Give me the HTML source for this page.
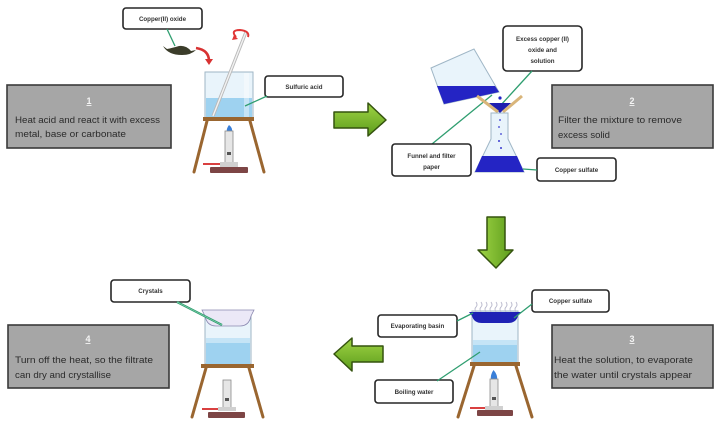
<!DOCTYPE html>
<html><head><meta charset="utf-8"><style>
html,body{margin:0;padding:0;background:#fff;}
svg{display:block;}
text{font-family:"Liberation Sans",sans-serif;}
.lb{fill:#fff;stroke:#262626;stroke-width:1.6;}
.lt{font-size:6.2px;font-weight:bold;fill:#333;text-anchor:middle;}
.sb{fill:#a6a6a6;stroke:#3a3a3a;stroke-width:1.6;}
.st{font-size:9px;fill:#2b2b2b;}
.sn{font-size:9px;font-weight:bold;fill:#f4f4f4;text-anchor:middle;text-decoration:underline;}
.ld{stroke:#2f9e70;stroke-width:1.3;fill:none;}
.glass{fill:#e9f4fb;stroke:#9fb6c6;stroke-width:1;}
.liq{fill:#9ed2f0;}
.wood{stroke:#9a6630;stroke-width:3;stroke-linecap:round;}
.tube{fill:#e6e6e6;stroke:#8a8a8a;stroke-width:0.8;}
.base{fill:#7d4545;}
.hose{stroke:#d94040;stroke-width:2;}
.arrow{fill:url(#gg);stroke:#35530f;stroke-width:1.5;stroke-linejoin:round;}
</style></head><body>
<svg width="720" height="425" viewBox="0 0 720 425" xmlns="http://www.w3.org/2000/svg">
<defs>
<linearGradient id="gg" x1="0" y1="0" x2="0" y2="1">
<stop offset="0" stop-color="#9fd444"/><stop offset="1" stop-color="#5c9c1c"/>
</linearGradient>
<linearGradient id="ggv" x1="0" y1="0" x2="1" y2="0">
<stop offset="0" stop-color="#9fd444"/><stop offset="1" stop-color="#5c9c1c"/>
</linearGradient>
</defs>

<!-- ===== STEP 1 ===== -->
<rect class="sb" x="7" y="85" width="164" height="63"/>
<text class="sn" x="89" y="104">1</text>
<text class="st" x="15" y="123" textLength="145" lengthAdjust="spacingAndGlyphs">Heat acid and react it with excess</text>
<text class="st" x="15" y="137" textLength="111" lengthAdjust="spacingAndGlyphs">metal, base or carbonate</text>

<!-- label copper(II) oxide -->
<rect class="lb" x="123" y="8" width="79" height="21" rx="3"/>
<text class="lt" x="162.5" y="21">Copper(II) oxide</text>
<line class="ld" x1="167" y1="29" x2="175" y2="46"/>
<!-- spatula -->
<path d="M163,46 Q168,55 182,55 Q191,55 196,50 L191,51 Q186,45 179,46 Q172,48 167,49 Z" fill="#3b3d2a"/>
<!-- red curved arrow -->
<path d="M196,48 Q209,50 209,61" stroke="#d83232" stroke-width="2.6" fill="none"/>
<path d="M205,59 L213,59 L209,65 Z" fill="#d83232"/>

<!-- beaker -->
<rect class="glass" x="205" y="72" width="48" height="46"/>
<rect class="liq" x="206" y="98" width="46" height="20"/>
<rect x="244" y="73" width="5" height="44" fill="#fff" opacity="0.4"/>
<!-- rod -->
<line x1="213" y1="116" x2="246" y2="32" stroke="#b9b9b9" stroke-width="3.2"/>
<line x1="213" y1="116" x2="246" y2="32" stroke="#f2f2f2" stroke-width="1.4"/>
<!-- swirl -->
<path d="M236,37 Q230,30 240,30 Q250,31 248,37" stroke="#e03535" stroke-width="2" fill="none"/>
<path d="M234,35 L238,39 L232,40 Z" fill="#e03535"/>
<!-- sulfuric acid label -->
<rect class="lb" x="265" y="76" width="78" height="21" rx="3"/>
<text class="lt" x="304" y="89">Sulfuric acid</text>
<line class="ld" x1="267" y1="96" x2="245" y2="106"/>
<!-- tripod -->
<line class="wood" x1="207" y1="121" x2="194" y2="172"/>
<line class="wood" x1="250" y1="121" x2="264" y2="172"/>
<rect x="203" y="117" width="51" height="4" fill="#9a6630"/>
<!-- burner -->
<path d="M229,125 Q226,129 227,132 L232,132 Q233,128 229,125 Z" fill="#3a7fd8"/>
<rect class="tube" x="225" y="131" width="8" height="32"/>
<rect x="227" y="152" width="4" height="3" fill="#555"/>
<line class="hose" x1="203" y1="164" x2="225" y2="164"/>
<rect x="220" y="162" width="18" height="5" fill="#d0d0d0"/>
<rect class="base" x="210" y="167" width="38" height="6" rx="1"/>

<!-- arrow right -->
<path class="arrow" d="M334,112 L368,112 L368,103 L386,120 L368,136 L368,128 L334,128 Z"/>

<!-- ===== STEP 2 ===== -->
<rect class="sb" x="552" y="85" width="161" height="63"/>
<text class="sn" x="632" y="104">2</text>
<text class="st" x="558" y="123" textLength="124" lengthAdjust="spacingAndGlyphs">Filter the mixture to remove</text>
<text class="st" x="558" y="138" textLength="52" lengthAdjust="spacingAndGlyphs">excess solid</text>

<rect class="lb" x="503" y="26" width="79" height="45" rx="4"/>
<text class="lt" x="542.5" y="41">Excess copper (II)</text>
<text class="lt" x="542.5" y="52">oxide and</text>
<text class="lt" x="542.5" y="63">solution</text>

<!-- leaders -->
<line class="ld" x1="432" y1="144" x2="492" y2="95"/>
<line class="ld" x1="532" y1="71" x2="500" y2="106"/>

<!-- tilted beaker -->
<polygon class="glass" points="431,68 474,49 499,92 444,104"/>
<polygon points="437,86 495,86 499,92 444,104" fill="#2424c4"/>
<circle cx="500" cy="98" r="1.6" fill="#2424c4"/>
<!-- funnel -->
<polygon points="489,103 511,103 500,113" fill="#1e1eb0"/>
<line x1="477" y1="96" x2="498" y2="112" stroke="#d9b57a" stroke-width="3"/>
<line x1="522" y1="96" x2="503" y2="112" stroke="#d9b57a" stroke-width="3"/>
<!-- flask -->
<path class="glass" d="M491,113 L508,113 L508,139 L524,172 L475,172 L491,139 Z"/>
<path d="M482,156 L517,156 L524,172 L475,172 Z" fill="#2424c4"/>
<g fill="#3a3ad0">
<circle cx="500" cy="120" r="0.9"/><circle cx="499" cy="127" r="0.9"/><circle cx="501" cy="134" r="0.9"/>
<circle cx="499" cy="141" r="1"/><circle cx="501" cy="148" r="1"/>
</g>

<rect class="lb" x="392" y="144" width="79" height="32" rx="3"/>
<text class="lt" x="431.5" y="158">Funnel and filter</text>
<text class="lt" x="431.5" y="169">paper</text>

<rect class="lb" x="537" y="158" width="79" height="23" rx="3"/>
<text class="lt" x="576.5" y="172">Copper sulfate</text>
<line class="ld" x1="523" y1="169" x2="537" y2="170"/>

<!-- arrow down -->
<path d="M487,217 L505,217 L505,250 L513,250 L496,268 L478,250 L487,250 Z" fill="url(#ggv)" stroke="#35530f" stroke-width="1.5" stroke-linejoin="round"/>

<!-- ===== STEP 3 ===== -->
<rect class="sb" x="552" y="325" width="161" height="63"/>
<text class="sn" x="632" y="342">3</text>
<text class="st" x="554" y="363" textLength="139" lengthAdjust="spacingAndGlyphs">Heat the solution, to evaporate</text>
<text class="st" x="554" y="378" textLength="138" lengthAdjust="spacingAndGlyphs">the water until crystals appear</text>

<rect class="lb" x="532" y="290" width="77" height="22" rx="3"/>
<text class="lt" x="570.5" y="303">Copper sulfate</text>
<rect class="lb" x="378" y="315" width="79" height="22" rx="3"/>
<text class="lt" x="417.5" y="328">Evaporating basin</text>
<rect class="lb" x="375" y="380" width="78" height="23" rx="3"/>
<text class="lt" x="414" y="394">Boiling water</text>

<!-- beaker -->
<rect class="glass" x="472" y="311" width="46" height="52"/>
<rect x="473" y="340" width="44" height="5" fill="#c5e4f6"/>
<rect class="liq" x="473" y="345" width="44" height="18"/>
<!-- steam -->
<g stroke="#b8b8cc" stroke-width="0.9" fill="none">
<path d="M476,312 q-2,-3 0,-5 q2,-2 0,-5"/>
<path d="M481,312 q-2,-3 0,-5 q2,-2 0,-5"/>
<path d="M486,312 q-2,-3 0,-5 q2,-2 0,-5"/>
<path d="M491,312 q-2,-3 0,-5 q2,-2 0,-5"/>
<path d="M496,312 q-2,-3 0,-5 q2,-2 0,-5"/>
<path d="M501,312 q-2,-3 0,-5 q2,-2 0,-5"/>
<path d="M506,312 q-2,-3 0,-5 q2,-2 0,-5"/>
<path d="M511,312 q-2,-3 0,-5 q2,-2 0,-5"/>
<path d="M516,312 q-2,-3 0,-5 q2,-2 0,-5"/>
</g>
<!-- basin -->
<path d="M469,312 L521,312 L518,316 Q516,323 508,323 L482,323 Q474,323 472,316 Z" fill="#1f22b5"/>
<line class="ld" x1="457" y1="321" x2="473" y2="313"/>
<line class="ld" x1="532" y1="304" x2="514" y2="318"/>
<line class="ld" x1="437" y1="381" x2="480" y2="352"/>
<!-- tripod -->
<line class="wood" x1="474" y1="366" x2="458" y2="417"/>
<line class="wood" x1="516" y1="366" x2="532" y2="417"/>
<rect x="470" y="362" width="50" height="4" fill="#9a6630"/>
<!-- burner -->
<path d="M493.5,370 Q490,375 491,380 L497,380 Q498,375 493.5,370 Z" fill="#3a7fd8"/>
<rect class="tube" x="490" y="379" width="8" height="28"/>
<rect x="492" y="397" width="4" height="3" fill="#555"/>
<line class="hose" x1="470" y1="408" x2="490" y2="408"/>
<rect x="485" y="406" width="18" height="4" fill="#d0d0d0"/>
<rect class="base" x="477" y="410" width="36" height="6" rx="1"/>

<!-- arrow left -->
<path class="arrow" d="M383,346 L352,346 L352,338 L334,354 L352,371 L352,362 L383,362 Z"/>

<!-- ===== STEP 4 ===== -->
<rect class="sb" x="8" y="325" width="161" height="63"/>
<text class="sn" x="88" y="342">4</text>
<text class="st" x="15" y="363" textLength="138" lengthAdjust="spacingAndGlyphs">Turn off the heat, so the filtrate</text>
<text class="st" x="15" y="378" textLength="96" lengthAdjust="spacingAndGlyphs">can dry and crystallise</text>

<rect class="lb" x="111" y="280" width="79" height="22" rx="3"/>
<text class="lt" x="150.5" y="293">Crystals</text>

<!-- beaker -->
<rect class="glass" x="205" y="311" width="46" height="53"/>
<rect x="206" y="338" width="44" height="5" fill="#c5e4f6"/>
<rect class="liq" x="206" y="343" width="44" height="21"/>
<path d="M202,310 L254,310 L251,316 Q249,326 240,326 L216,326 Q207,326 205,316 Z" fill="#ebe8f7" stroke="#8a88b0" stroke-width="0.8"/>
<line x1="177" y1="302" x2="222" y2="325" stroke="#2f9e70" stroke-width="2.2"/>
<line x1="177" y1="302" x2="222" y2="325" stroke="#8fd6b5" stroke-width="0.7"/>
<!-- tripod -->
<line class="wood" x1="206" y1="368" x2="192" y2="417"/>
<line class="wood" x1="249" y1="368" x2="263" y2="417"/>
<rect x="201" y="364" width="53" height="4" fill="#9a6630"/>
<!-- burner -->
<rect class="tube" x="223" y="380" width="8" height="28"/>
<rect x="225" y="398" width="4" height="3" fill="#555"/>
<line class="hose" x1="202" y1="409" x2="223" y2="409"/>
<rect x="218" y="407" width="18" height="4" fill="#d0d0d0"/>
<rect class="base" x="208" y="412" width="37" height="6" rx="1"/>
</svg>
</body></html>
